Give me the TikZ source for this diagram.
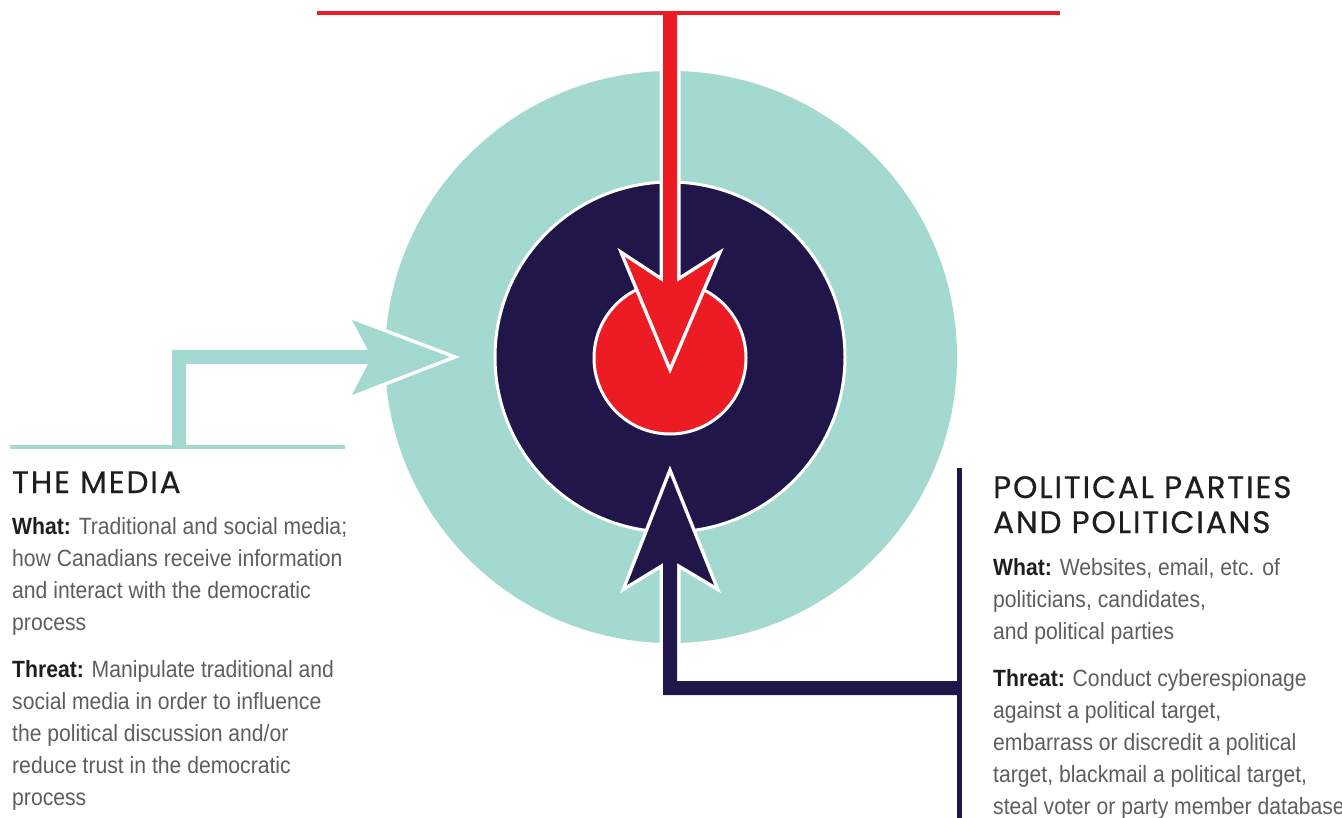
\documentclass[tikz,border=0pt]{standalone}
\usepackage{fontspec}
\newfontfamily\titlefont[LetterSpace=6,FakeBold=0.5]{Poppins}
\newfontfamily\bodyfont[FakeStretch=0.9]{Liberation Sans}
\definecolor{tealc}{HTML}{A3D9D0}
\definecolor{navyc}{HTML}{21164A}
\definecolor{redc}{HTML}{ED1C24}
\definecolor{grayt}{HTML}{5E5E5E}
\definecolor{darkt}{HTML}{1E1E1E}
\tikzset{
  ring/.style={circle, inner sep=0pt, outer sep=0pt},
  arrowpoly/.style={preaction={draw=white, line width=7pt, line join=miter}},
  titletext/.style={anchor=base west, inner sep=0pt, text=darkt, font=\titlefont\fontsize{31}{35}\selectfont},
  bodytext/.style={anchor=base west, inner sep=0pt, text=grayt, font=\bodyfont\fontsize{23.5}{32}\selectfont},
}
\newcommand{\lbl}[1]{\textcolor{darkt}{\bfseries #1}}
\begin{document}
\begin{tikzpicture}[x=1pt,y=-1pt]
\useasboundingbox[fill=white] (0,0) rectangle (1342,818);

% target rings
\node[ring, fill=tealc, minimum size=572pt] (outer) at (671,357) {};
\node[ring, fill=navyc, draw=white, line width=3pt, minimum size=350pt] (inner) at (670,357) {};
\node[ring, fill=redc, draw=white, line width=3pt, minimum size=152pt] (core) at (670,358) {};

% red arrow (from top)
\fill[redc, arrowpoly] (663,13) -- (663,282) -- (625,257) -- (670,365) -- (716,257) -- (677,282) -- (677,13) -- cycle;
\coordinate (rl) at (317,13);
\coordinate (rr) at (1060,13);
\draw[redc, line width=4pt] (rl) -- (rr);

% teal arrow (the media)
\fill[tealc, arrowpoly] (172,447) -- (172,350) -- (368,350) -- (352,320) -- (450,357) -- (352,395) -- (368,364) -- (186,364) -- (186,447) -- cycle;
\coordinate (tl) at (10,447);
\coordinate (tr) at (345,447);
\draw[tealc, line width=4pt] (tl) -- (tr);

% navy arrow (political parties)
\fill[navyc, arrowpoly] (959,695) -- (663,695) -- (663,563) -- (627,585) -- (670,475) -- (714,585) -- (677,563) -- (677,681) -- (959,681) -- cycle;
\coordinate (nt) at (959,468);
\coordinate (nb) at (959,818);
\draw[navyc, line width=5pt] (nt) -- (nb);

% left text
\node[titletext] (mt) at (12,493) {THE MEDIA};
\node[bodytext] (mw1) at (12,534) {\lbl{What:} Traditional and social media;};
\node[bodytext] (mw2) at (12,566) {how Canadians receive information};
\node[bodytext] (mw3) at (12,598) {and interact with the democratic};
\node[bodytext] (mw4) at (12,630) {process};
\node[bodytext] (mh1) at (12,677) {\lbl{Threat:} Manipulate traditional and};
\node[bodytext] (mh2) at (12,709) {social media in order to influence};
\node[bodytext] (mh3) at (12,741) {the political discussion and/or};
\node[bodytext] (mh4) at (12,773) {reduce trust in the democratic};
\node[bodytext] (mh5) at (12,805) {process};

% right text
\node[titletext] (pt1) at (993,498) {POLITICAL PARTIES};
\node[titletext] (pt2) at (993,533) {AND POLITICIANS};
\node[bodytext] (pw1) at (993,575) {\lbl{What:} Websites, email, etc. of};
\node[bodytext] (pw2) at (993,607) {politicians, candidates,};
\node[bodytext] (pw3) at (993,639) {and political parties};
\node[bodytext] (ph1) at (993,686) {\lbl{Threat:} Conduct cyberespionage};
\node[bodytext] (ph2) at (993,718) {against a political target,};
\node[bodytext] (ph3) at (993,750) {embarrass or discredit a political};
\node[bodytext] (ph4) at (993,782) {target, blackmail a political target,};
\node[bodytext] (ph5) at (993,814) {steal voter or party member database};
\end{tikzpicture}
\end{document}
